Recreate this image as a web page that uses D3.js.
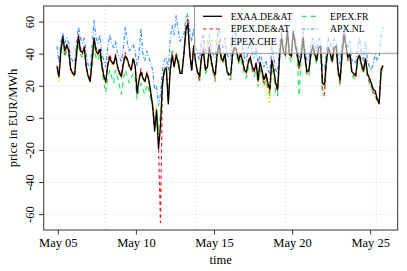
<!DOCTYPE html>
<html><head><meta charset="utf-8">
<script src="https://cdn.jsdelivr.net/npm/d3@7"></script>
<style>body{margin:0;background:#fff}svg{display:block}</style>
</head><body><svg id="c" width="407" height="271" font-family="Liberation Serif, Times New Roman, Times, DejaVu Serif, serif"></svg>
<script>
// 3-hourly prices, one row per local day (May 5 .. May 25), 00h..21h
const exaa = [
32,26,42,51,42,46,42,31, 28,27,40,51,42,41,44,32, 26,23,36,50,42,40,43,33,
26,23,33,38,35,34,39,32, 28,26,34,39,37,33,30,37, 33,16,24,29,25,23,28,24,
16,8,-8,5,-19,-5,22,30,  31,9,30,39,32,39,35,28,  28,40,55,59,40,30,45,35,
29,26,38,42,30,32,44,36, 30,27,40,46,38,36,40,30, 27,28,41,44,42,36,40,36,
30,29,35,38,32,30,34,24, 35,30,24,28,22,18,36,30, 22,18,39,50,42,40,54,40,
39,54,46,40,33,38,50,38, 29,30,40,45,40,36,44,45, 22,21,36,44,40,36,44,45,
30,24,40,52,45,38,40,29, 28,27,37,39,33,30,37,28, 25,22,18,17,12,9,30,33];
const epexDE = [
33,28,44,50,40,45,44,30, 30,26,42,52,44,40,45,31, 27,24,38,49,44,41,44,34,
27,22,35,40,36,33,40,33, 29,27,36,41,36,32,31,38, 34,15,25,31,26,22,29,25,
17,7,-6,3,-18,-65,20,31, 32,10,31,41,33,40,36,29, 29,42,57,62,42,29,46,36,
28,24,39,44,31,31,45,37, 29,25,41,48,39,35,41,31, 26,26,42,45,43,35,41,37,
31,28,36,39,31,28,35,23, 34,28,22,27,20,16,37,31, 21,17,40,52,43,39,56,41,
38,53,47,42,30,39,51,39, 28,29,41,46,41,37,45,44, 18,15,35,45,41,35,45,44,
29,22,41,53,46,36,41,30, 27,25,38,40,34,29,38,27, 23,20,16,15,11,10,31,34];
const epexCHE = [
28,23,40,50,41,45,41,30, 27,26,39,50,41,40,43,31, 25,22,35,49,41,39,42,32,
25,22,32,37,34,33,38,31, 27,25,33,38,36,32,29,36, 32,17,24,28,25,22,27,24,
17,10,2,8,-10,-2,22,30,  30,12,31,38,33,38,35,28, 28,39,54,58,40,31,44,35,
28,25,37,41,30,31,43,35, 29,26,39,45,37,35,39,29, 26,27,40,43,41,35,39,35,
29,27,34,37,31,29,33,22, 33,28,20,22,12,9,33,29,  20,17,38,49,41,39,53,39,
38,52,45,39,32,37,49,37, 28,29,39,44,39,35,43,44, 21,20,35,43,39,35,43,44,
29,23,39,51,44,37,39,28, 27,26,36,38,32,29,36,27, 24,21,17,16,12,12,28,32];
const epexFR = [
30,27,40,47,38,42,40,30, 29,28,38,47,40,38,42,32, 27,24,33,45,38,36,40,30,
22,16,25,30,26,22,30,26, 20,15,24,30,26,22,25,28, 25,12,18,22,18,15,21,18,
12,6,-2,6,-8,2,18,28,    30,12,35,42,40,41,38,30, 30,38,52,60,42,32,44,34,
28,22,36,40,28,30,42,34, 28,23,38,44,36,34,38,28, 25,24,38,42,40,34,38,33,
27,25,32,36,30,26,32,20, 30,26,20,24,18,14,32,27, 15,14,36,48,40,38,52,38,
35,50,44,38,14,36,48,36, 26,27,38,43,38,34,42,42, 16,14,33,42,38,34,43,42,
27,20,38,50,44,36,38,27, 25,24,35,37,31,28,35,25, 22,19,15,14,11,10,29,31];
const apxNL = [
45,35,48,53,47,50,47,38, 36,34,47,57,50,47,50,40, 33,31,45,61,50,47,52,40,
36,32,44,52,47,44,48,40, 38,35,44,57,47,42,44,46, 42,33,40,56,40,36,42,38,
34,30,18,20,8,15,30,36,  38,30,50,58,52,64,55,48, 50,52,62,65,55,48,56,44,
40,36,48,52,42,44,52,44, 40,38,50,56,46,44,50,40, 38,37,52,54,50,46,50,44,
38,36,44,48,40,38,44,34, 40,36,32,36,30,28,45,38, 30,28,45,54,46,44,56,44,
42,55,50,44,38,42,54,44, 36,36,46,50,46,42,50,48, 32,30,42,50,46,42,50,48,
38,34,48,56,50,44,48,36, 36,34,44,50,40,36,48,36, 32,30,34,40,36,38,52,57];
const seriesNames = ["EXAA.DE&AT","EPEX.DE&AT","EPEX.CHE","EPEX.FR","APX.NL"];
const yTicks = [-60,-40,-20,0,20,40,60];
const xTickLabels = ["May 05","May 10","May 15","May 20","May 25"];

const DAY = 864e5;
const t0 = Date.UTC(2014,4,4,22);
const times = exaa.map((_,i)=> new Date(t0 + i*3*3600e3));
const L=43.7,R=397.7,T=6,B=230;
const x = d3.scaleUtc().domain([new Date(Date.UTC(2014,4,5)-0.9347*DAY), new Date(Date.UTC(2014,4,25)+1.7286*DAY)]).range([L,R]);
const y = d3.scaleLinear().domain([-69.6,70]).range([B,T]);
const svg = d3.select("#c");
const FONT = "'Liberation Serif', 'Times New Roman', Times, 'DejaVu Serif', serif";

// grid
const gridX = [0,1,2,3].map(k=>new Date(Date.UTC(2014,4,8)+k*5e8)).filter(d=>x(d)<R);
svg.append("g").selectAll("line").data(gridX).join("line")
  .attr("x1",d=>x(d)).attr("x2",d=>x(d)).attr("y1",T).attr("y2",B)
  .attr("stroke","#d3d3d3").attr("stroke-dasharray","1,3").attr("stroke-width",1);
svg.append("g").selectAll("line").data(yTicks).join("line")
  .attr("x1",L).attr("x2",R).attr("y1",d=>y(d)).attr("y2",d=>y(d))
  .attr("stroke","#d3d3d3").attr("stroke-dasharray","1,3").attr("stroke-width",1);

const styles = [
 {data:apxNL, color:"#3a92ff", dash:"4,2,1,2", w:1.2},
 {data:epexFR, color:"#1ee860", dash:"5,4", w:1.2},
 {data:epexCHE, color:"#e4e400", dash:"1.5,2.5", w:1.3},
 {data:epexDE, color:"#ff1a1a", dash:"3.5,3", w:1.2},
 {data:exaa, color:"#000000", dash:null, w:1.3}
];
const line = d3.line().x((d,i)=>x(times[i])).y(d=>y(d));
svg.append("clipPath").attr("id","cp").append("rect").attr("x",L).attr("y",T).attr("width",R-L).attr("height",B-T);
styles.forEach(s=>{
  svg.append("path").datum(s.data).attr("d",line).attr("fill","none")
    .attr("stroke",s.color).attr("stroke-width",s.w)
    .attr("stroke-dasharray",s.dash).attr("stroke-linejoin","round")
    .attr("clip-path","url(#cp)");
});

// legend
const lg = svg.append("g");
lg.append("rect").attr("x",194.5).attr("y",T).attr("width",R-194.5).attr("height",47.3)
  .attr("fill","rgba(255,255,255,0.55)").attr("stroke","#999").attr("stroke-width",1);
const legItems = [
 {name:seriesNames[0], s:styles[4], col:0,row:0},
 {name:seriesNames[1], s:styles[3], col:0,row:1},
 {name:seriesNames[2], s:styles[2], col:0,row:2},
 {name:seriesNames[3], s:styles[1], col:1,row:0},
 {name:seriesNames[4], s:styles[0], col:1,row:1}
];
const colX=[[203,222,230.7],[301.7,319,330]];
const rowY=[16.3,29,41.2];
legItems.forEach(it=>{
  const cx=colX[it.col], ry=rowY[it.row];
  lg.append("line").attr("x1",cx[0]).attr("x2",cx[1]).attr("y1",ry).attr("y2",ry)
    .attr("stroke",it.s.color).attr("stroke-width",it.s.w).attr("stroke-dasharray",it.s.dash);
  lg.append("text").attr("x",cx[2]).attr("y",ry+3.3).attr("font-family",FONT).attr("font-size","9.7px").text(it.name);
});

// box
svg.append("rect").attr("x",L).attr("y",T).attr("width",R-L).attr("height",B-T)
  .attr("fill","none").attr("stroke","#333").attr("stroke-width",1);

// x axis
const xTickDates = [5,10,15,20,25].map(d=>new Date(Date.UTC(2014,4,d)));
const gx = svg.append("g");
xTickDates.forEach((d,i)=>{
  gx.append("line").attr("x1",x(d)).attr("x2",x(d)).attr("y1",B).attr("y2",B+4.5).attr("stroke","#333");
  gx.append("text").attr("x",x(d)).attr("y",247).attr("text-anchor","middle").attr("font-family",FONT).attr("font-size","12.5px").text(xTickLabels[i]);
});
svg.append("text").attr("x",(L+R)/2).attr("y",264).attr("text-anchor","middle").attr("font-family",FONT).attr("font-size","12.5px").text("time");

// y axis
const gy = svg.append("g");
yTicks.forEach(v=>{
  gy.append("line").attr("x1",L-4.5).attr("x2",L).attr("y1",y(v)).attr("y2",y(v)).attr("stroke","#333");
  gy.append("text").attr("transform",`translate(34,${y(v)}) rotate(-90)`).attr("text-anchor","middle").attr("font-family",FONT).attr("font-size","12.5px").text(v);
});
svg.append("text").attr("transform",`translate(17,${(T+B)/2}) rotate(-90)`).attr("text-anchor","middle").attr("font-family",FONT).attr("font-size","12.5px").text("price in EUR/MWh");
</script></body></html>
